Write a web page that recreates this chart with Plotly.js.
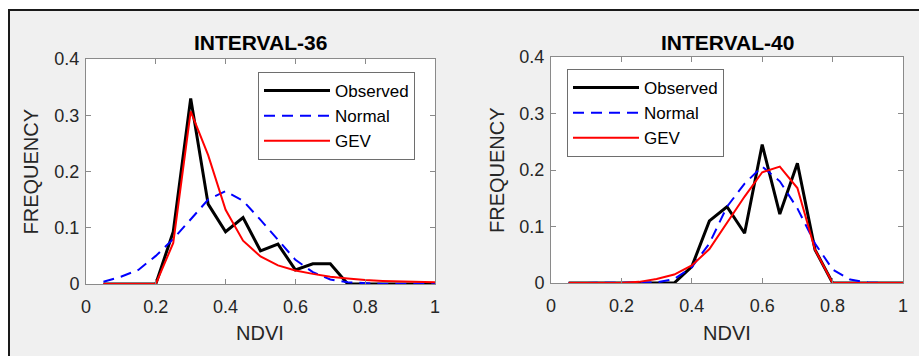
<!DOCTYPE html>
<html>
<head>
<meta charset="utf-8">
<script src="https://cdn.plot.ly/plotly-3.0.1.min.js"></script>
<style>
  html, body { margin: 0; padding: 0; background: #ffffff; width: 919px; height: 356px; overflow: hidden; }
  #frame { position: absolute; left: 8px; top: 9px; width: 911px; height: 347px;
           border-left: 2px solid #1a1a1a; border-top: 2px solid #1a1a1a; background: #f0f0f0; }
  #chart { position: absolute; left: 0; top: 0; width: 909px; height: 345px; }
</style>
</head>
<body>
<div id="frame"><div id="chart"></div></div>
<script>
// NDVI bin centres (same for both intervals)
const ndvi = [0.05, 0.10, 0.15, 0.20, 0.25, 0.30, 0.35, 0.40, 0.45, 0.50,
              0.55, 0.60, 0.65, 0.70, 0.75, 0.80, 0.85, 0.90, 0.95, 1.00];

// INTERVAL-36
const obs36    = [0, 0, 0, 0, 0.093, 0.330, 0.142, 0.093, 0.118, 0.059,
                  0.071, 0.025, 0.036, 0.036, 0, 0, 0, 0, 0, 0];
const normal36 = [0.004, 0.013, 0.025, 0.050, 0.080, 0.115, 0.150, 0.165, 0.148, 0.114,
                  0.078, 0.043, 0.021, 0.008, 0.003, 0.001, 0, 0, 0, 0];
const gev36    = [0, 0, 0, 0, 0.073, 0.307, 0.229, 0.132, 0.077, 0.049,
                  0.033, 0.024, 0.018, 0.013, 0.010, 0.007, 0.0055, 0.0045, 0.004, 0.003];

// INTERVAL-40
const obs40    = [0, 0, 0, 0, 0, 0, 0, 0.029, 0.110, 0.135,
                  0.088, 0.245, 0.122, 0.212, 0.059, 0, 0, 0, 0, 0];
const normal40 = [0, 0, 0, 0, 0, 0.001, 0.007, 0.028, 0.070, 0.135,
                  0.176, 0.206, 0.180, 0.132, 0.070, 0.024, 0.006, 0.001, 0, 0];
const gev40    = [0, 0, 0, 0, 0.002, 0.007, 0.015, 0.031, 0.060, 0.106,
                  0.153, 0.196, 0.206, 0.168, 0.059, 0, 0, 0, 0, 0];

const seriesNames = ['Observed', 'Normal', 'GEV'];
const titles = ['INTERVAL-36', 'INTERVAL-40'];
const xTitle = 'NDVI';
const yTitle = 'FREQUENCY';

const FONT = 'Liberation Sans, Arial, Helvetica, sans-serif';
const TXT = '#262626';
const lineStyles = [
  {color: '#000000', width: 3},
  {color: '#0000ff', width: 2, dash: '11px,7px'},
  {color: '#ff0000', width: 2}
];

function mk(y, i, xa, ya, lg) {
  return {x: ndvi, y: y, type: 'scatter', mode: 'lines', name: seriesNames[i],
          line: lineStyles[i], xaxis: xa, yaxis: ya, legend: lg, hoverinfo: 'skip'};
}

const data = [
  mk(obs36, 0, 'x', 'y', 'legend'), mk(normal36, 1, 'x', 'y', 'legend'), mk(gev36, 2, 'x', 'y', 'legend'),
  mk(obs40, 0, 'x2', 'y2', 'legend2'), mk(normal40, 1, 'x2', 'y2', 'legend2'), mk(gev40, 2, 'x2', 'y2', 'legend2')
];

const W = 909, H = 345;
function xax(dom, anchor) {
  return {domain: dom, range: [0, 1], dtick: 0.2, tick0: 0, showgrid: false, zeroline: false,
          showline: true, mirror: 'ticks', linecolor: '#8a8a8a', linewidth: 1, anchor: anchor,
          ticks: 'inside', ticklen: 5, tickcolor: '#8a8a8a', ticklabelstandoff: 6,
          tickfont: {family: FONT, size: 18, color: TXT}, fixedrange: true};
}
function yax(dom, anchor) {
  return {domain: dom, range: [0, 0.4], dtick: 0.1, tick0: 0, showgrid: false, zeroline: false,
          showline: true, mirror: 'ticks', linecolor: '#8a8a8a', linewidth: 1, anchor: anchor,
          ticks: 'inside', ticklen: 5, tickcolor: '#8a8a8a', ticklabelstandoff: 2,
          tickfont: {family: FONT, size: 18, color: TXT}, fixedrange: true};
}

const legStyle = (x, y) => ({x: x, y: y, xanchor: 'left', yanchor: 'top', xref: 'paper', yref: 'paper',
  bgcolor: '#ffffff', bordercolor: '#6e6e6e', borderwidth: 1,
  font: {family: FONT, size: 17, color: '#000000'}, itemwidth: 66, tracegroupgap: 0});

const ann = [];
[['x', 'y', 16, -49, -56], ['x2', 'y2', 14, -50, -54]].forEach((a, k) => {
  ann.push({text: '<b>' + titles[k] + '</b>', xref: a[0] + ' domain', yref: a[1] + ' domain', x: 0.5, y: 1,
            xanchor: 'center', yanchor: 'middle', yshift: a[2], showarrow: false,
            font: {family: FONT, size: 21, color: '#000000'}});
  ann.push({text: xTitle, xref: a[0] + ' domain', yref: a[1] + ' domain', x: 0.5, y: 0,
            xanchor: 'center', yanchor: 'middle', yshift: a[3], showarrow: false,
            font: {family: FONT, size: 20, color: TXT}});
  ann.push({text: yTitle, xref: a[0] + ' domain', yref: a[1] + ' domain', x: 0, y: 0.5,
            xanchor: 'center', yanchor: 'middle', xshift: a[4], textangle: -90, showarrow: false,
            font: {family: FONT, size: 20, color: TXT}});
});

const layout = {
  width: W, height: H, margin: {l: 0, r: 0, t: 0, b: 0},
  paper_bgcolor: '#f0f0f0', plot_bgcolor: '#ffffff',
  xaxis: xax([76 / W, 425 / W], 'y'),
  yaxis: yax([(H - 273) / H, (H - 48) / H], 'x'),
  xaxis2: xax([541 / W, 893 / W], 'y2'),
  yaxis2: yax([(H - 272) / H, (H - 46) / H], 'x2'),
  legend: legStyle(248 / W, (H - 61) / H),
  legend2: legStyle(557 / W, (H - 58) / H),
  showlegend: true,
  annotations: ann
};

Plotly.newPlot('chart', data, layout, {staticPlot: true, displayModeBar: false});
</script>
</body>
</html>
